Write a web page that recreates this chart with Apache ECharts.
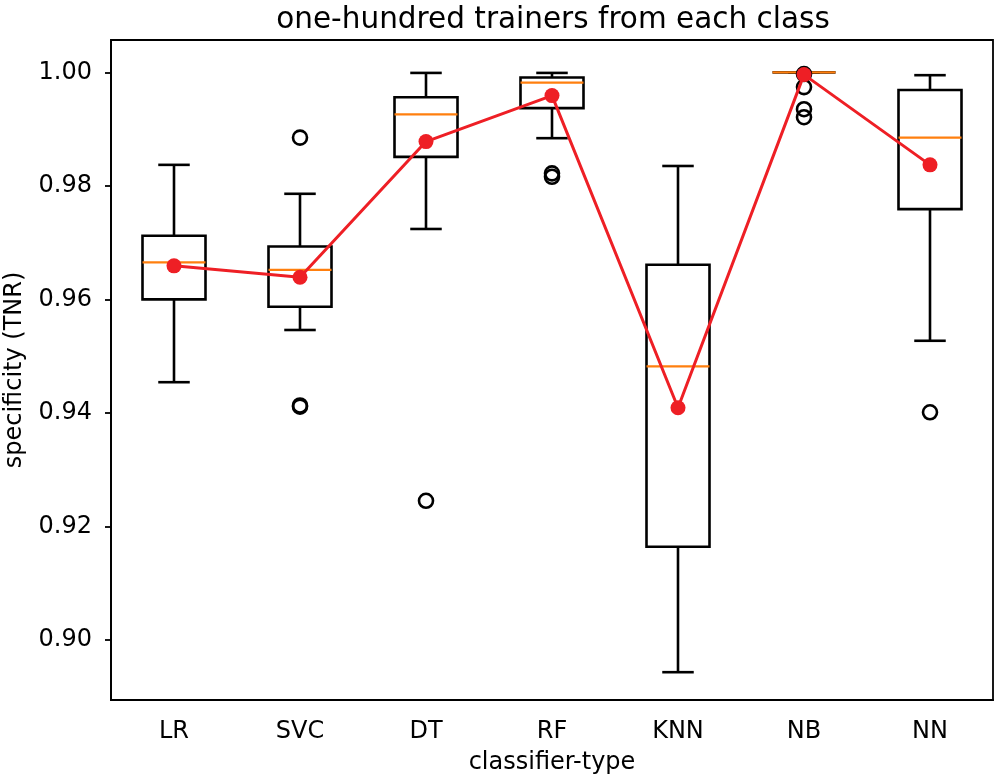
<!DOCTYPE html>
<html>
<head>
<meta charset="utf-8">
<script src="https://cdn.jsdelivr.net/npm/echarts@6/dist/echarts.min.js"></script>
<style>html,body{margin:0;padding:0;background:#fff;}#chart{width:1000px;height:780px;}</style>
</head>
<body>
<div id="chart"></div>
<script>
const categories = ['LR', 'SVC', 'DT', 'RF', 'KNN', 'NB', 'NN'];
const whiskerLow  = [0.9454, 0.9546, 0.9724, 0.9884, 0.8943, 1.0000, 0.9527];
const q1          = [0.9600, 0.9587, 0.9851, 0.9937, 0.9164, 1.0000, 0.9759];
const medians     = [0.9665, 0.9652, 0.9926, 0.9982, 0.9482, 1.0000, 0.9885];
const q3          = [0.9712, 0.9693, 0.9956, 0.9991, 0.9661, 1.0000, 0.9969];
const whiskerHigh = [0.9837, 0.9786, 0.9999, 0.9999, 0.9835, 1.0000, 0.9995];
const means       = [0.9659, 0.9639, 0.9878, 0.9959, 0.9409, 0.9996, 0.9837];
const outlierCats = ['SVC', 'SVC', 'SVC', 'DT', 'RF', 'RF', 'NB', 'NB', 'NB', 'NB', 'NN'];
const outlierVals = [0.9885, 0.9413, 0.9411, 0.9245, 0.9822, 0.9816, 0.9997, 0.9974, 0.9935, 0.9921, 0.9401];
const yTicks = [0.90, 0.92, 0.94, 0.96, 0.98, 1.00];
const titleText = 'one-hundred trainers from each class';
const xName = 'classifier-type';
const yName = 'specificity (TNR)';

const FONT = 'DejaVu Sans';
const boxData = categories.map((c, i) => [i, whiskerLow[i], q1[i], medians[i], q3[i], whiskerHigh[i]]);
const outlierData = outlierCats.map((c, k) => [categories.indexOf(c), outlierVals[k]]);

function renderBox(params, api) {
  const i = api.value(0);
  const band = api.size([1, 0])[0];
  const half = band * 0.25, cap = band * 0.125;
  const pLow = api.coord([i, api.value(1)]);
  const pQ1 = api.coord([i, api.value(2)]);
  const pMed = api.coord([i, api.value(3)]);
  const pQ3 = api.coord([i, api.value(4)]);
  const pHigh = api.coord([i, api.value(5)]);
  const x = pMed[0];
  const ls = { stroke: '#000', lineWidth: 2.6 };
  return {
    type: 'group',
    children: [
      { type: 'line', shape: { x1: x, y1: pLow[1], x2: x, y2: pQ1[1] }, style: ls },
      { type: 'line', shape: { x1: x, y1: pQ3[1], x2: x, y2: pHigh[1] }, style: ls },
      { type: 'line', shape: { x1: x - cap, y1: pLow[1], x2: x + cap, y2: pLow[1] }, style: ls },
      { type: 'line', shape: { x1: x - cap, y1: pHigh[1], x2: x + cap, y2: pHigh[1] }, style: ls },
      { type: 'rect', shape: { x: x - half, y: pQ3[1], width: 2 * half, height: pQ1[1] - pQ3[1] },
        style: { fill: 'none', stroke: '#000', lineWidth: 2.6 } },
      { type: 'line', shape: { x1: x - half, y1: pMed[1], x2: x + half, y2: pMed[1] },
        style: { stroke: '#ff7f0e', lineWidth: 2.2 } }
    ]
  };
}

const chart = echarts.init(document.getElementById('chart'), null, { renderer: 'canvas' });
chart.setOption({
  animation: false,
  backgroundColor: '#fff',
  textStyle: { fontFamily: FONT },
  graphic: [{
    type: 'text', x: 553, y: 20,
    style: { text: titleText, font: '29.5px "DejaVu Sans"', fill: '#000', textAlign: 'center', textVerticalAlign: 'middle' }
  }],
  grid: { left: 111, right: 7, top: 40, bottom: 80, show: true, borderColor: '#000', borderWidth: 1.8,
    backgroundColor: 'transparent', outerBoundsMode: 'none', containLabel: false },
  xAxis: {
    type: 'category',
    data: categories,
    boundaryGap: true,
    name: xName,
    nameLocation: 'middle',
    nameGap: 51,
    nameTextStyle: { fontFamily: FONT, fontSize: 24, color: '#000' },
    axisLine: { lineStyle: { color: '#000', width: 1.8 } },
    axisTick: { alignWithLabel: true, length: 6, lineStyle: { color: '#000', width: 1.8 } },
    axisLabel: { fontFamily: FONT, fontSize: 24, color: '#000', margin: 20 },
    splitLine: { show: false }
  },
  yAxis: {
    type: 'value',
    min: 0.8894,
    max: 1.0057,
    name: yName,
    nameLocation: 'middle',
    nameGap: 84,
    nameRotate: 90,
    nameTextStyle: { fontFamily: FONT, fontSize: 24, color: '#000' },
    axisLine: { show: true, lineStyle: { color: '#000', width: 1.8 } },
    axisTick: { show: true, length: 6, customValues: yTicks, lineStyle: { color: '#000', width: 1.8 } },
    axisLabel: { fontFamily: FONT, fontSize: 24, color: '#000', margin: 19, customValues: yTicks,
      formatter: v => Number(v).toFixed(2) },
    splitLine: { show: false }
  },
  series: [
    {
      type: 'custom',
      renderItem: renderBox,
      data: boxData,
      encode: { x: 0, y: [1, 2, 3, 4, 5] },
      z: 2
    },
    {
      type: 'scatter',
      data: outlierData,
      symbol: 'circle',
      symbolSize: 14,
      itemStyle: { color: 'rgba(0,0,0,0)', borderColor: '#000', borderWidth: 2.6, opacity: 1 },
      z: 3
    },
    {
      type: 'line',
      data: means,
      symbol: 'circle',
      symbolSize: 15,
      lineStyle: { color: '#ee1f25', width: 3 },
      itemStyle: { color: '#ee1f25' },
      z: 4
    }
  ]
});
</script>
</body>
</html>
